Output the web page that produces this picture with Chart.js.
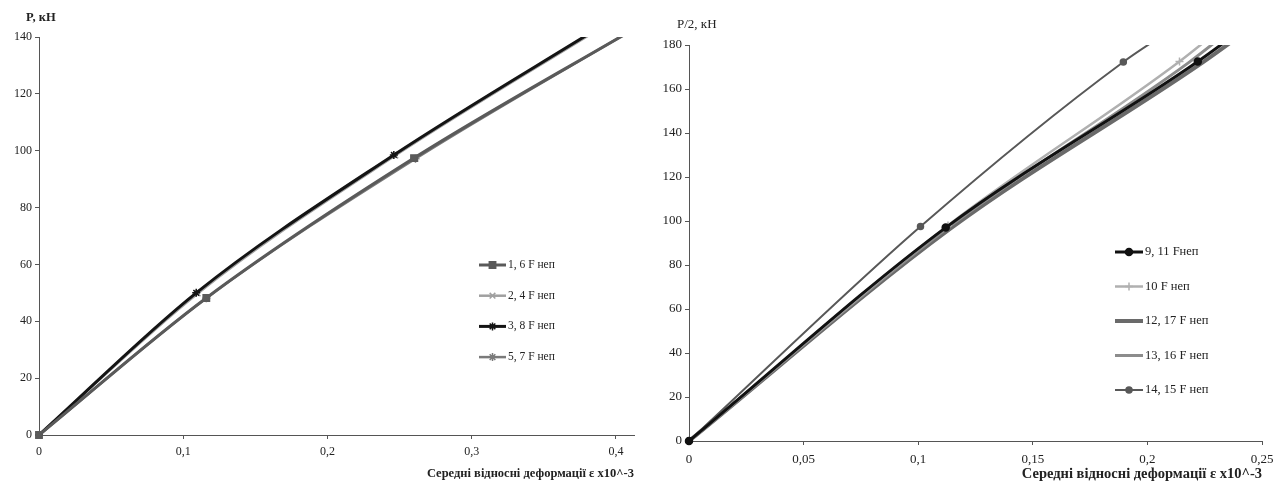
<!DOCTYPE html>
<html>
<head>
<meta charset="utf-8">
<script src="https://cdn.jsdelivr.net/npm/chart.js@4.4.1/dist/chart.umd.min.js"></script>
<style>
  html, body { margin: 0; padding: 0; background: #fff; overflow: hidden; }
  .box { position: absolute; top: 0; height: 484px; }
  #leftBox { left: 0; width: 640px; }
  #rightBox { left: 640px; width: 652px; }
  .ytitle { position: absolute; font-family: 'Liberation Serif', serif; color: #222; white-space: nowrap; }
</style>
</head>
<body>
<div class="box" id="leftBox"><canvas id="leftChart"></canvas></div>
<div class="box" id="rightBox"><canvas id="rightChart"></canvas></div>
<div class="ytitle" style="left:26px; top:10px; font-size:12.5px; font-weight:bold;">P, кН</div>
<div class="ytitle" style="left:677px; top:16px; font-size:13px;">P/2, кН</div>
<script>
// left chart: P, kN vs mean relative strain
var leftLabels = ['1, 6 F неп', '2, 4 F неп', '3, 8 F неп', '5, 7 F неп'];
var strain16 = [0, 0.116, 0.260, 0.420];
var load16   = [0, 48.2, 97.4, 145];
var strain24 = [0, 0.110, 0.247, 0.393];
var load24   = [0, 49.8, 98.3, 144.3];
var strain38 = [0, 0.109, 0.246, 0.392];
var load38   = [0, 50.0, 98.5, 144.5];
var strain57 = [0, 0.116, 0.261, 0.419];
var load57   = [0, 48.1, 97.2, 144.8];
var leftXTicks = [0, 0.1, 0.2, 0.3, 0.4];
var leftYTicks = [0, 20, 40, 60, 80, 100, 120, 140];

// right chart: P/2, kN vs mean relative strain
var rightLabels = ['9, 11 Fнеп', '10 F неп', '12, 17 F неп', '13, 16 F неп', '14, 15 F неп'];
var strain911 = [0, 0.112, 0.222, 0.245];
var load911   = [0, 97.0, 172.5, 190];
var strain10  = [0, 0.113, 0.214, 0.235];
var load10    = [0, 98.0, 172.5, 190];
var strain1217 = [0, 0.114, 0.224, 0.248];
var load1217   = [0, 96.5, 172.0, 190];
var strain1316 = [0, 0.113, 0.218, 0.240];
var load1316   = [0, 97.0, 172.0, 190];
var strain1415 = [0, 0.101, 0.1895, 0.215];
var load1415   = [0, 97.5, 172.3, 190];
var rightXTicks = [0, 0.05, 0.1, 0.15, 0.2, 0.25];
var rightYTicks = [0, 20, 40, 60, 80, 100, 120, 140, 160, 180];

Chart.defaults.font.family = "'Liberation Serif', 'Times New Roman', serif";
Chart.defaults.font.size = 12;
Chart.defaults.color = '#222';

function toPoints(xs, ys) {
    return xs.map(function (x, i) { return { x: x, y: ys[i] }; });
}

function series(label, xs, ys, color, width, pointStyle, radius, order) {
    return {
        label: label,
        data: toPoints(xs, ys),
        order: order,
        borderColor: color,
        borderWidth: width,
        pointStyle: pointStyle,
        pointRadius: radius,
        pointBackgroundColor: color,
        pointBorderColor: color,
        pointBorderWidth: 1.5,
        cubicInterpolationMode: 'monotone',
        clip: { left: 8, bottom: 8, top: 0, right: 0 }
    };
}

function comma(v) {
    return String(Number(v.toFixed(3))).replace('.', ',');
}

// legend drawn inside the plot, like the original
var floatLegend = {
    id: 'floatLegend',
    afterDraw: function (chart, args, opts) {
        var ctx = chart.ctx;
        ctx.save();
        ctx.font = opts.size + "px 'Liberation Serif', serif";
        ctx.textBaseline = 'middle';
        chart.data.datasets.forEach(function (ds, i) {
            var y = opts.y + i * opts.gap;
            ctx.strokeStyle = ds.borderColor;
            ctx.lineWidth = ds.borderWidth;
            ctx.beginPath();
            ctx.moveTo(opts.x, y);
            ctx.lineTo(opts.x + opts.len, y);
            ctx.stroke();
            if (ds.pointRadius > 0) {
                ctx.fillStyle = ds.pointBackgroundColor;
                ctx.strokeStyle = ds.pointBorderColor;
                ctx.lineWidth = 1.5;
                Chart.helpers.drawPoint(ctx, { pointStyle: ds.pointStyle, radius: ds.pointRadius, borderWidth: 1.5, rotation: 0 }, opts.x + opts.len / 2, y);
            }
            ctx.fillStyle = '#222';
            ctx.fillText(ds.label, opts.x + opts.len + 2, y);
        });
        ctx.restore();
    }
};

function axisOpts(max, tickList, yWidth, xHeight, title, fs) {
    var grid = { display: true, drawOnChartArea: false, drawTicks: true, tickLength: 4, color: '#555' };
    var border = { display: true, color: '#555', width: 1 };
    return {
        x: {
            type: 'linear', min: 0, max: max.x,
            grid: grid, border: border,
            afterBuildTicks: function (s) { s.ticks = tickList.x.map(function (v) { return { value: v }; }); },
            afterFit: function (s) { s.height = xHeight; },
            ticks: { padding: fs.pad, maxRotation: 0, font: { size: fs.tick }, callback: function (v) { return comma(v); } },
            title: { display: true, text: title, align: 'end', font: { weight: 'bold', size: fs.title }, padding: { top: 4, bottom: fs.tb } }
        },
        y: {
            type: 'linear', min: 0, max: max.y,
            grid: grid, border: border,
            afterBuildTicks: function (s) { s.ticks = tickList.y.map(function (v) { return { value: v }; }); },
            afterFit: function (s) { s.width = yWidth; },
            ticks: { padding: 3, font: { size: fs.tick } }
        }
    };
}

new Chart(document.getElementById('leftChart').getContext('2d'), {
    type: 'line',
    data: {
        datasets: [
            series(leftLabels[0], strain16, load16, '#5a5a5a', 3, 'rect', 4.5, 1),
            series(leftLabels[1], strain24, load24, '#a0a0a0', 2.5, 'crossRot', 4, 4),
            series(leftLabels[2], strain38, load38, '#141414', 3, 'star', 4, 2),
            series(leftLabels[3], strain57, load57, '#7a7a7a', 2.5, 'star', 4, 3)
        ]
    },
    options: {
        responsive: true,
        maintainAspectRatio: false,
        animation: false,
        layout: { padding: { top: 37, right: 5, left: 0, bottom: 0 } },
        scales: axisOpts({ x: 0.4125, y: 140 }, { x: leftXTicks, y: leftYTicks }, 39, 49,
            'Середні відносні деформації ε x10^-3', { tick: 12, title: 12.5, pad: 6, tb: 3 }),
        plugins: {
            legend: { display: false },
            tooltip: { enabled: false },
            floatLegend: { x: 479, y: 265, gap: 30.7, len: 27, size: 11.5 }
        }
    },
    plugins: [floatLegend]
});

new Chart(document.getElementById('rightChart').getContext('2d'), {
    type: 'line',
    data: {
        datasets: [
            series(rightLabels[0], strain911, load911, '#111111', 3, 'circle', 3.5, 1),
            series(rightLabels[1], strain10, load10, '#b0b0b0', 2.5, 'cross', 4, 2),
            series(rightLabels[2], strain1217, load1217, '#6a6a6a', 4, 'circle', 0, 4),
            series(rightLabels[3], strain1316, load1316, '#8c8c8c', 3, 'circle', 0, 3),
            series(rightLabels[4], strain1415, load1415, '#585858', 2, 'circle', 3, 5)
        ]
    },
    options: {
        responsive: true,
        maintainAspectRatio: false,
        animation: false,
        layout: { padding: { top: 45, right: 30, left: 0, bottom: 0 } },
        scales: axisOpts({ x: 0.25, y: 180 }, { x: rightXTicks, y: rightYTicks }, 49, 43,
            'Середні відносні деформації ε x10^-3', { tick: 13, title: 14.5, pad: 7, tb: 1 }),
        plugins: {
            legend: { display: false },
            tooltip: { enabled: false },
            floatLegend: { x: 475, y: 252, gap: 34.5, len: 28, size: 12.5 }
        }
    },
    plugins: [floatLegend]
});
</script>
</body>
</html>
